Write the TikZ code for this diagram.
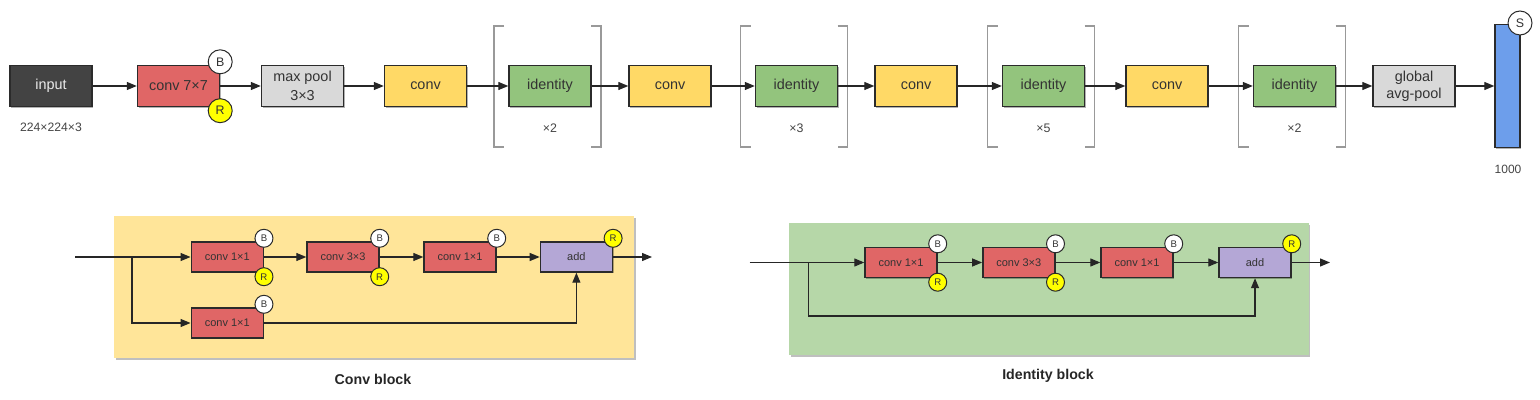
\documentclass[tikz,border=0pt]{standalone}
\usepackage{fontspec}
\setmainfont{Liberation Sans}
\usetikzlibrary{arrows.meta,shadows}
\definecolor{cinput}{HTML}{434343}
\definecolor{cred}{HTML}{E06666}
\definecolor{cgray}{HTML}{D9D9D9}
\definecolor{cyel}{HTML}{FFD966}
\definecolor{cgrn}{HTML}{93C47D}
\definecolor{cblue}{HTML}{6D9EEB}
\definecolor{cpur}{HTML}{B4A7D6}
\definecolor{bgyel}{HTML}{FFE599}
\definecolor{bggrn}{HTML}{B6D7A8}
\definecolor{cborder}{HTML}{2B2B2B}
\definecolor{ctext}{HTML}{333333}
\definecolor{clabel}{HTML}{444444}
\definecolor{cbracket}{HTML}{999999}
\definecolor{cyellowdot}{HTML}{FFFF00}
\tikzset{
  shad/.style={drop shadow={shadow xshift=0.6pt, shadow yshift=-0.6pt, opacity=0.3, fill=black}},
  box/.style={draw=cborder, line width=0.7pt, inner sep=0pt, text=ctext, shad},
  topbox/.style={box, minimum width=41pt, minimum height=20.5pt, font=\fontsize{7.2}{9.5}\selectfont, align=center},
  botbox/.style={box, minimum width=36pt, minimum height=15pt, font=\fontsize{5.5}{6.5}\selectfont},
  badge/.style={circle, draw=cborder, line width=0.5pt, inner sep=0pt, minimum size=12pt, font=\fontsize{6.2}{6.2}\selectfont, text=ctext},
  smallbadge/.style={badge, minimum size=9pt, font=\fontsize{4.8}{4.8}\selectfont},
  bbadge/.style={badge, fill=white},
  rbadge/.style={badge, fill=cyellowdot},
  sbbadge/.style={smallbadge, fill=white},
  srbadge/.style={smallbadge, fill=cyellowdot},
  conn/.style={line width=0.6pt, draw=black!85, -{Triangle[length=5pt,width=4pt]}},
  brk/.style={draw=cbracket, line width=0.6pt},
  graylabel/.style={text=clabel, inner sep=0pt},
  blocklabel/.style={text=black!85, font=\bfseries\fontsize{7.1}{8}\selectfont, inner sep=0pt},
  bgpanel/.style={inner sep=0pt, drop shadow={shadow xshift=0.8pt, shadow yshift=-0.8pt, opacity=0.25, fill=black}},
}
\begin{document}
\begin{tikzpicture}[x=0.5pt, y=-0.5pt]
\useasboundingbox (0,0) rectangle (1540,400);
% ---------- top row ----------
\node[topbox, fill=cinput, text=white!92!black] (input) at (51,86) {input};
\node[graylabel, font=\fontsize{6.1}{7}\selectfont] (inlab) at (51,127) {224×224×3};
\node[topbox, fill=cred] (conv7) at (178.5,86) {conv 7×7};
\node[bbadge, yshift=1.5pt] (b7) at (conv7.north east) {B};
\node[rbadge, yshift=-1.75pt] (r7) at (conv7.south east) {R};
\node[topbox, fill=cgray] (pool) at (302.5,86) {max pool\\3×3};
\node[topbox, fill=cyel] (c1) at (425.5,86) {conv};
\node[topbox, fill=cgrn] (i1) at (550,86) {identity};
\node[topbox, fill=cyel] (c2) at (670,86) {conv};
\node[topbox, fill=cgrn] (i2) at (796.5,86) {identity};
\node[topbox, fill=cyel] (c3) at (916,86) {conv};
\node[topbox, fill=cgrn] (i3) at (1043.5,86) {identity};
\node[topbox, fill=cyel] (c4) at (1167,86) {conv};
\node[topbox, fill=cgrn] (i4) at (1294.5,86) {identity};
\node[topbox, fill=cgray, font=\fontsize{7.2}{8.6}\selectfont] (gap) at (1414,86) {global\\avg-pool};
\node[box, fill=cblue, minimum width=12.5pt, minimum height=61.5pt] (fc) at (1507.5,86) {};
\node[bbadge] (sfc) at (1520,23) {S};
\node[graylabel, font=\fontsize{6}{7}\selectfont] (fclab) at (1508,169) {1000};
% brackets and repeat labels
\foreach \cx/\n/\i in {550/2/1, 796.5/3/2, 1043.5/5/3, 1294.5/2/4}{
  \draw[brk] (\cx-46,26) -- (\cx-56,26) -- (\cx-56,147) -- (\cx-46,147);
  \draw[brk] (\cx+41,26) -- (\cx+51,26) -- (\cx+51,147) -- (\cx+41,147);
  \node[graylabel, font=\fontsize{6.2}{7}\selectfont] (rep\i) at (\cx,128) {×\n};
}
\draw[conn] (input) -- (conv7);
\draw[conn] (conv7) -- (pool);
\draw[conn] (pool) -- (c1);
\draw[conn] (c1) -- (i1);
\draw[conn] (i1) -- (c2);
\draw[conn] (c2) -- (i2);
\draw[conn] (i2) -- (c3);
\draw[conn] (c3) -- (i3);
\draw[conn] (i3) -- (c4);
\draw[conn] (c4) -- (i4);
\draw[conn] (i4) -- (gap);
\draw[conn] (gap) -- (fc);
% ---------- conv block ----------
\node[bgpanel, fill=bgyel, minimum width=260pt, minimum height=71pt] (cbg) at (374,287) {};
\node[botbox, fill=cred] (ca) at (227.25,257) {conv 1×1};
\node[botbox, fill=cred] (cb) at (343,257) {conv 3×3};
\node[botbox, fill=cred] (cc) at (460,257) {conv 1×1};
\node[botbox, fill=cpur] (cadd) at (576.4,257) {add};
\node[botbox, fill=cred] (cd) at (227.25,323) {conv 1×1};
\node[sbbadge, yshift=1.5pt] (cab) at (ca.north east) {B};
\node[srbadge, yshift=-2pt] (car) at (ca.south east) {R};
\node[sbbadge, yshift=1.5pt] (cbb) at (cb.north east) {B};
\node[srbadge, yshift=-2pt] (cbr2) at (cb.south east) {R};
\node[sbbadge, yshift=1.5pt] (ccb) at (cc.north east) {B};
\node[srbadge, yshift=1.5pt] (caddr) at (cadd.north east) {R};
\node[sbbadge, yshift=1.5pt] (cdb) at (cd.north east) {B};
\coordinate (cin) at (75,257);
\coordinate (cbr) at (132,257);
\coordinate (cout) at (652,257);
\draw[conn] (cin) -- (ca);
\draw[conn] (cbr) |- (cd);
\draw[conn] (ca) -- (cb);
\draw[conn] (cb) -- (cc);
\draw[conn] (cc) -- (cadd);
\draw[conn] (cadd) -- (cout);
\draw[conn] (cd) -| (cadd);
\node[blocklabel] (clab) at (373,379) {Conv block};
% ---------- identity block ----------
\node[bgpanel, fill=bggrn, minimum width=259.75pt, minimum height=66pt] (ibg) at (1048.75,289) {};
\node[botbox, fill=cred] (ia) at (901,262.5) {conv 1×1};
\node[botbox, fill=cred] (ib) at (1018.8,262.5) {conv 3×3};
\node[botbox, fill=cred] (ic) at (1137,262.5) {conv 1×1};
\node[botbox, fill=cpur] (iadd) at (1255,262.5) {add};
\node[sbbadge, yshift=1.5pt] (iab) at (ia.north east) {B};
\node[srbadge, yshift=-2pt] (iar) at (ia.south east) {R};
\node[sbbadge, yshift=1.5pt] (ibb) at (ib.north east) {B};
\node[srbadge, yshift=-2pt] (ibr2) at (ib.south east) {R};
\node[sbbadge, yshift=1.5pt] (icb) at (ic.north east) {B};
\node[srbadge, yshift=1.5pt] (iaddr) at (iadd.north east) {R};
\coordinate (iin) at (749.6,262.5);
\coordinate (ibr) at (808.5,262.5);
\coordinate (ibot) at (808.5,316);
\coordinate (iout) at (1330,262.5);
\draw[conn] (iin) -- (ia);
\draw[conn] (ia) -- (ib);
\draw[conn] (ib) -- (ic);
\draw[conn] (ic) -- (iadd);
\draw[conn] (iadd) -- (iout);
\draw[conn] (ibr) -- (ibot) -| (iadd);
\node[blocklabel] (ilab) at (1048,376) {Identity block};
\end{tikzpicture}
\end{document}
